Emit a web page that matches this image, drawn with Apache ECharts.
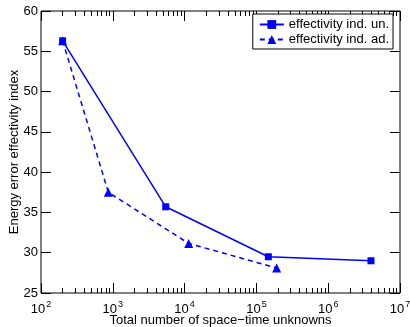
<!DOCTYPE html>
<html>
<head>
<meta charset="utf-8">
<script src="https://cdn.jsdelivr.net/npm/echarts@6/dist/echarts.min.js"></script>
<style>
  html, body { margin: 0; padding: 0; background: #fff; }
  #chart { width: 410px; height: 327px; }
</style>
</head>
<body>
<div id="chart"></div>
<script>
// data
const unX = [200, 5460, 146600, 3940000];
const unY = [56.3, 35.7, 29.5, 29.0];
const adX = [200, 866, 11400, 191800];
const adY = [56.3, 37.5, 31.15, 28.1];
const majorTicks = [1e2, 1e3, 1e4, 1e5, 1e6, 1e7];
const minorTicks = [];
majorTicks.slice(0, -1).forEach(function (d) {
    for (let k = 2; k <= 9; k++) minorTicks.push(d * k);
});

const font = '"Liberation Sans", Arial, sans-serif';
const blue = '#0000ff';

const chart = echarts.init(document.getElementById('chart'), null, { renderer: 'canvas' });

function logAxis(pos, ticks, len, showLabel) {
    return {
        type: 'log',
        logBase: 10,
        min: 100,
        max: 1e7,
        position: pos,
        axisLine: { show: false },
        axisTick: { show: true, inside: true, length: len, customValues: ticks, lineStyle: { color: '#000', width: 1 } },
        axisLabel: {
            show: showLabel,
            customValues: majorTicks,
            margin: 7,
            color: '#000',
            fontFamily: font,
            fontSize: 13,
            formatter: function (v) {
                return '10{sup|' + Math.round(Math.log10(v)) + '}';
            },
            rich: {
                sup: { fontSize: 9, verticalAlign: 'bottom', padding: [0, 0, 9, 1], fontFamily: font, color: '#000' }
            }
        },
        splitLine: { show: false },
        minorTick: { show: false }
    };
}

function valAxis(pos, showLabel) {
    return {
        type: 'value',
        min: 25,
        max: 60,
        interval: 5,
        position: pos,
        axisLine: { show: false },
        axisTick: { show: true, inside: true, length: 10, lineStyle: { color: '#000', width: 1 } },
        axisLabel: { show: showLabel, color: '#000', fontFamily: font, fontSize: 13, margin: 3 },
        splitLine: { show: false }
    };
}

const xMain = logAxis('bottom', majorTicks, 10, true);
xMain.name = 'Total number of space\u2212time unknowns';
xMain.nameLocation = 'middle';
xMain.nameGap = 21;
xMain.nameMoveOverlap = false;
xMain.nameTextStyle = { color: '#000', fontFamily: font, fontSize: 13 };

const yMain = valAxis('left', true);
yMain.name = 'Energy error effectivity index';
yMain.nameLocation = 'middle';
yMain.nameGap = 20;
yMain.nameMoveOverlap = false;
yMain.nameTextStyle = { color: '#000', fontFamily: font, fontSize: 13 };

chart.setOption({
    animation: false,
    backgroundColor: '#fff',
    grid: {
        left: 41, right: 10, top: 11, bottom: 34,
        outerBoundsMode: 'none',
        containLabel: false,
        show: true, borderColor: '#000', borderWidth: 1, backgroundColor: 'transparent'
    },
    xAxis: [
        xMain,
        logAxis('bottom', minorTicks, 5, false),
        logAxis('top', majorTicks, 10, false),
        logAxis('top', minorTicks, 5, false)
    ],
    yAxis: [yMain, valAxis('right', false)],
    legend: {
        orient: 'vertical',
        top: 14,
        right: 17,
        backgroundColor: '#fff',
        borderColor: '#000',
        borderWidth: 1,
        borderRadius: 0,
        padding: [3, 4, 2, 6],
        itemGap: 0,
        itemWidth: 24,
        itemHeight: 11,
        textStyle: { color: '#000', fontFamily: font, fontSize: 13, lineHeight: 15 },
        data: ['effectivity ind. un.', 'effectivity ind. ad.']
    },
    series: [
        {
            name: 'effectivity ind. un.',
            type: 'line',
            xAxisIndex: 0,
            yAxisIndex: 0,
            data: unX.map(function (x, i) { return [x, unY[i]]; }),
            symbol: 'rect',
            symbolSize: 7,
            lineStyle: { color: blue, width: 1.5, type: 'solid' },
            itemStyle: { color: blue }
        },
        {
            name: 'effectivity ind. ad.',
            type: 'line',
            xAxisIndex: 0,
            yAxisIndex: 0,
            data: adX.map(function (x, i) { return [x, adY[i]]; }),
            symbol: 'triangle',
            symbolSize: 9,
            lineStyle: { color: blue, width: 1.5, type: [5, 4] },
            itemStyle: { color: blue }
        }
    ]
});
</script>
</body>
</html>
